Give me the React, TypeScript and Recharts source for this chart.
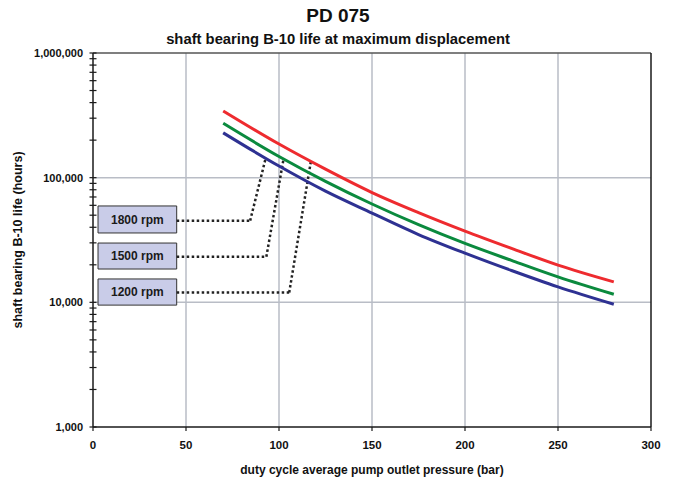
import React from 'react';
import {
  LineChart,
  Line,
  XAxis,
  YAxis,
  CartesianGrid,
  ReferenceLine,
  ReferenceArea,
  Label,
} from 'recharts';

// ---- data ----
const pressure = [70, 100, 125, 150, 175, 200, 225, 250, 280];
const life1200 = [343000, 186000, 117000, 76000, 52500, 37300, 27100, 19900, 14600];
const life1500 = [273000, 148000, 93500, 61500, 42000, 29700, 21700, 16000, 11600];
const life1800 = [229000, 124000, 78000, 52000, 35000, 24800, 18000, 13300, 9650];

const xTicks = [0, 50, 100, 150, 200, 250, 300];
const yMajorTicks = [1000, 10000, 100000, 1000000];
const yMinorMultipliers = [2, 3, 4, 5, 6, 7, 8, 9];

// annotation callouts (data coordinates)
const calloutText = ['1800 rpm', '1500 rpm', '1200 rpm'];
const calloutBoxX = [2.7, 45];
const calloutBoxY = [
  [36000, 59300],
  [18500, 29900],
  [9500, 15400],
];
const calloutLeaderY = [45200, 23200, 12000];
const calloutKneeX = [84.5, 93.2, 105.5];
const calloutTip = [
  [92.6, 138700],
  [102.5, 142900],
  [117.2, 136800],
];

const data = pressure.map((p, i) => ({
  p,
  r1200: life1200[i],
  r1500: life1500[i],
  r1800: life1800[i],
}));

const yTicks: number[] = [];
[1000, 10000, 100000].forEach((d) => {
  yTicks.push(d);
  yMinorMultipliers.forEach((m) => yTicks.push(m * d));
});
yTicks.push(1000000);

const FONT = '"Liberation Sans", Arial, Helvetica, sans-serif';
const AXIS = '#1a1a1a';
const GRID = '#b9bdc6';

const YTick = (props: any) => {
  const { x, y, payload } = props;
  const v = payload.value;
  const major = yMajorTicks.includes(v);
  return (
    <g>
      <line x1={x - 3.5} x2={x + 3.5} y1={y} y2={y} stroke={AXIS} strokeWidth={1.2} />
      {major && (
        <text
          x={x - 10}
          y={y}
          textAnchor="end"
          dominantBaseline="central"
          fontFamily={FONT}
          fontWeight={700}
          fontSize={11}
          fill="#111"
        >
          {v.toLocaleString('en-US')}
        </text>
      )}
    </g>
  );
};

const YTitle = (props: any) => {
  const vb = props.viewBox || { x: 0, y: 53, width: 93, height: 374 };
  const cx = 18;
  const cy = vb.y + vb.height / 2;
  return (
    <text
      x={cx}
      y={cy}
      transform={`rotate(-90, ${cx}, ${cy})`}
      textAnchor="middle"
      dominantBaseline="central"
      fontFamily={FONT}
      fontWeight={700}
      fontSize={12.5}
      fill="#111"
    >
      shaft bearing B-10 life (hours)
    </text>
  );
};

const XTitle = (props: any) => {
  const vb = props.viewBox || { x: 93, y: 427, width: 558, height: 58 };
  const cx = vb.x + vb.width / 2;
  const cy = vb.y + 43;
  return (
    <text
      x={cx}
      y={cy}
      textAnchor="middle"
      dominantBaseline="central"
      fontFamily={FONT}
      fontWeight={700}
      fontSize={12}
      fill="#111"
    >
      duty cycle average pump outlet pressure (bar)
    </text>
  );
};

export default function App() {
  return (
    <div
      style={{
        position: 'absolute',
        left: 0,
        top: 0,
        width: 676,
        height: 485,
        background: '#fff',
        fontFamily: FONT,
      }}
    >
      <LineChart
        width={676}
        height={485}
        data={data}
        margin={{ top: 53, right: 25, bottom: 0, left: 0 }}
      >
        <CartesianGrid
          stroke={GRID}
          strokeWidth={1.5}
          horizontalValues={[10000, 100000]}
          verticalValues={[50, 100, 150, 200, 250]}
        />
        <XAxis
          dataKey="p"
          type="number"
          domain={[0, 300]}
          ticks={xTicks}
          interval={0}
          height={58}
          tickSize={4}
          tickMargin={10}
          axisLine={{ stroke: AXIS, strokeWidth: 1.5 }}
          tickLine={{ stroke: AXIS, strokeWidth: 1.2 }}
          tick={{ fontFamily: FONT, fontWeight: 700, fontSize: 11.5, fill: '#111' }}
        >
          <Label content={<XTitle />} />
        </XAxis>
        <YAxis
          type="number"
          scale="log"
          domain={[1000, 1000000]}
          allowDataOverflow
          ticks={yTicks}
          interval={0}
          width={93}
          tickSize={0}
          tickMargin={0}
          tickLine={false}
          axisLine={{ stroke: AXIS, strokeWidth: 1.5 }}
          tick={<YTick />}
        >
          <Label content={<YTitle />} />
        </YAxis>
        <ReferenceLine y={1000000} stroke="#555" strokeWidth={1.5} />
        <ReferenceLine x={300} stroke={AXIS} strokeWidth={1.5} />

        {calloutText.map((t, i) => (
          <ReferenceLine
            key={`lh-${t}`}
            segment={[
              { x: calloutBoxX[1], y: calloutLeaderY[i] },
              { x: calloutKneeX[i], y: calloutLeaderY[i] },
            ]}
            stroke="#222"
            strokeWidth={2.5}
            strokeDasharray="2.5 2.5"
          />
        ))}
        {calloutText.map((t, i) => (
          <ReferenceLine
            key={`ld-${t}`}
            segment={[
              { x: calloutKneeX[i], y: calloutLeaderY[i] },
              { x: calloutTip[i][0], y: calloutTip[i][1] },
            ]}
            stroke="#222"
            strokeWidth={2.5}
            strokeDasharray="2.5 2.5"
          />
        ))}
        {calloutText.map((t, i) => (
          <ReferenceArea
            key={`box-${t}`}
            x1={calloutBoxX[0]}
            x2={calloutBoxX[1]}
            y1={calloutBoxY[i][0]}
            y2={calloutBoxY[i][1]}
            fill="#c9cce8"
            fillOpacity={1}
            stroke="#333"
            strokeWidth={1}
            label={{
              value: t,
              position: 'center',
              fill: '#1a1a1a',
              fontSize: 12,
              fontWeight: 700,
              fontFamily: FONT,
            }}
          />
        ))}

        <Line
          dataKey="r1200"
          type="monotone"
          stroke="#ee2b2f"
          strokeWidth={3}
          dot={false}
          isAnimationActive={false}
        />
        <Line
          dataKey="r1500"
          type="monotone"
          stroke="#0b8a3e"
          strokeWidth={3}
          dot={false}
          isAnimationActive={false}
        />
        <Line
          dataKey="r1800"
          type="monotone"
          stroke="#2e3192"
          strokeWidth={3}
          dot={false}
          isAnimationActive={false}
        />
      </LineChart>
      <div
        style={{
          position: 'absolute',
          top: 5,
          left: 0,
          width: 676,
          textAlign: 'center',
          fontSize: 19,
          lineHeight: '22px',
          fontWeight: 700,
          color: '#111',
        }}
      >
        PD 075
      </div>
      <div
        style={{
          position: 'absolute',
          top: 30,
          left: 0,
          width: 676,
          textAlign: 'center',
          fontSize: 14.8,
          lineHeight: '18px',
          fontWeight: 700,
          color: '#111',
        }}
      >
        shaft bearing B-10 life at maximum displacement
      </div>
    </div>
  );
}
